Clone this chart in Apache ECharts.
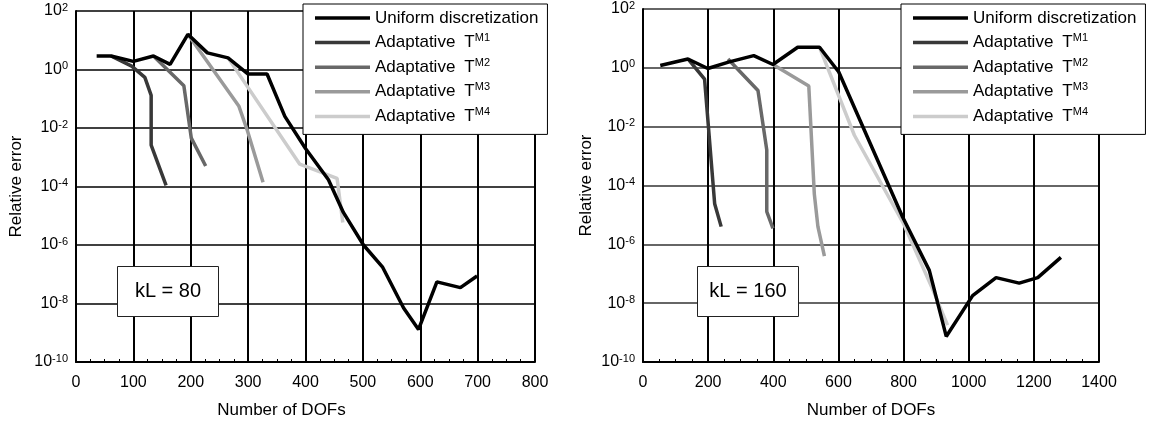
<!DOCTYPE html>
<html><head><meta charset="utf-8">
<script src="https://cdn.jsdelivr.net/npm/echarts@6/dist/echarts.min.js"></script>
<style>html,body{margin:0;padding:0;background:#fff}#c{width:1150px;height:424px}</style>
</head><body><div id="c"></div>
<script>
// ---- Data ----
const seriesNames = ['Uniform discretization', 'Adaptative T^M1', 'Adaptative T^M2', 'Adaptative T^M3', 'Adaptative T^M4'];
const seriesColors = ['#000000', '#383838', '#686868', '#9a9a9a', '#cccccc'];
const xTicksLeft = { min: 0, max: 800, step: 100 };
const xTicksRight = { min: 0, max: 1400, step: 200 };
const panelLabels = ['kL = 80', 'kL = 160'];
const xTitle = 'Number of DOFs';
const yTitle = 'Relative error';

// kL = 80  [DOFs, relative error]
const kl80Uniform = [[36,2.9],[61,2.9],[100,1.9],[135,2.9],[164,1.5],[195,16],[229,3.7],[265,2.5],[300,0.7],[333,0.7],[364,2.5e-2],[400,2.0e-3],[440,1.7e-4],[466,1.3e-5],[501,1.0e-6],[534,1.8e-7],[571,7e-9],[597,1.3e-9],[629,5.5e-8],[670,3.5e-8],[699,8.7e-8]];
const kl80M1 = [[61,2.9],[97,1.3],[120,0.54],[131,0.13],[131,2.6e-3],[157,1.1e-4]];
const kl80M2 = [[135,2.9],[188,0.28],[201,4.5e-3],[226,5e-4]];
const kl80M3 = [[195,16],[284,5.5e-2],[298,9e-3],[326,1.4e-4]];
const kl80M4 = [[265,2.5],[390,5.8e-4],[455,1.9e-4],[465,5.9e-6]];

// kL = 160
const kl160Uniform = [[53,1.2],[138,2.0],[199,0.95],[265,1.6],[340,2.6],[399,1.3],[475,5.0],[542,5.0],[601,0.72],[797,8.5e-6],[879,1.3e-7],[931,7.4e-10],[1012,1.8e-8],[1084,7.4e-8],[1155,4.8e-8],[1212,7.4e-8],[1283,3.6e-7]];
const kl160M1 = [[138,2.0],[189,0.41],[220,2.4e-5],[240,4e-6]];
const kl160M2 = [[261,2.0],[353,0.17],[380,1.6e-3],[380,1.3e-5],[399,3.5e-6]];
const kl160M3 = [[399,1.3],[509,0.24],[526,5.1e-5],[537,4e-6],[557,4e-7]];
const kl160M4 = [[542,5.0],[649,5.1e-3],[800,5e-6],[889,3e-8],[935,1.8e-9]];

const leftData = [kl80Uniform, kl80M1, kl80M2, kl80M3, kl80M4];
const rightData = [kl160Uniform, kl160M1, kl160M2, kl160M3, kl160M4];

// ---- Chart ----
const FONT = '"Liberation Sans", Arial, sans-serif';
const chart = echarts.init(document.getElementById('c'), null, { renderer: 'canvas' });

function powLabel(v) {
  const e = Math.round(Math.log10(v));
  return '{b|10}{s|' + e + '}';
}
const yRich = {
  b: { fontSize: 16, fontFamily: FONT, color: '#000', lineHeight: 18 },
  s: { fontSize: 11, fontFamily: FONT, color: '#000', lineHeight: 10, verticalAlign: 'top' }
};

function makeX(idx, t, titlePad) {
  return {
    gridIndex: idx, type: 'value', min: t.min, max: t.max, interval: t.step,
    name: xTitle, nameLocation: 'middle', nameGap: 40,
    nameTextStyle: { fontSize: 17, fontFamily: FONT, color: '#000', padding: titlePad },
    axisLine: { show: true, lineStyle: { color: '#000', width: 2 } },
    axisTick: { show: false, inside: true },
    minorTick: { show: true, splitNumber: 4, length: 3, lineStyle: { color: '#000', width: 1 } },
    axisLabel: { fontSize: 16, fontFamily: FONT, color: '#000', margin: 13, formatter: v => String(v) },
    splitLine: { show: true, lineStyle: { color: '#000', width: 2 } }
  };
}
function makeY(idx, gridColor, gap) {
  return {
    gridIndex: idx, type: 'log', logBase: 100, min: 1e-10, max: 1e2, splitNumber: 6,
    name: yTitle, nameLocation: 'middle', nameGap: gap, nameRotate: 90,
    nameTextStyle: { fontSize: 17, fontFamily: FONT, color: '#000' },
    axisLine: { show: true, lineStyle: { color: '#000', width: 2 } },
    axisTick: { show: false },
    axisLabel: { formatter: powLabel, rich: yRich, margin: 8, fontSize: 16, fontFamily: FONT, color: '#000' },
    splitLine: { show: true, lineStyle: { color: gridColor, width: 1.5 } }
  };
}

const series = [];
[leftData, rightData].forEach((set, gi) => {
  [1, 2, 3, 4, 0].forEach(k => {
    series.push({
      name: seriesNames[k], type: 'line', xAxisIndex: gi, yAxisIndex: gi,
      data: set[k], symbol: 'none', color: seriesColors[k],
      lineStyle: { color: seriesColors[k], width: 3.5 },
      z: k === 0 ? 4 : 3, silent: true, animation: false
    });
  });
});

function legendFmt(name) {
  const p = name.split(' T^');
  if (p.length < 2) return name;
  return p[0] + '{t|T}{s|' + p[1] + '}';
}
const legendRich = {
  t: { fontSize: 17, fontFamily: FONT, color: '#000', lineHeight: 20, padding: [0, 0, 0, 9] },
  s: { fontSize: 11, fontFamily: FONT, color: '#000', lineHeight: 11, verticalAlign: 'top' }
};
function makeLegend(left) {
  return {
    left: left, top: 4, orient: 'vertical', data: seriesNames, selectedMode: false,
    icon: 'rect', itemWidth: 55, itemHeight: 3.5, itemGap: 4.6,
    padding: [4, 9, 8, 12], backgroundColor: '#fff', borderColor: '#000', borderWidth: 1,
    textStyle: { fontSize: 17, fontFamily: FONT, color: '#000', lineHeight: 20, rich: legendRich },
    formatter: legendFmt, z: 10
  };
}

function labelBox(x, y, w, h, text) {
  return {
    type: 'group', left: x, top: y, z: 20,
    children: [
      { type: 'rect', z: 20, shape: { x: 0, y: 0, width: w, height: h }, style: { fill: '#fff', stroke: '#222', lineWidth: 1 } },
      { type: 'text', z: 21, x: w / 2, y: h / 2, style: { text: text, fontSize: 20, fontFamily: FONT, fill: '#000', align: 'center', verticalAlign: 'middle' } }
    ]
  };
}

chart.setOption({
  animation: false,
  backgroundColor: '#fff',
  grid: [
    { left: 76, top: 11, width: 459, height: 354 },
    { left: 643, top: 8, width: 456, height: 360 }
  ],
  xAxis: [makeX(0, xTicksLeft, [0, 48, 0, 0]), makeX(1, xTicksRight, 0)],
  yAxis: [makeY(0, '#000', 51), makeY(1, '#333', 48)],
  legend: [makeLegend(303), makeLegend(901)],
  series: series,
  graphic: [
    labelBox(117, 266, 101, 50, panelLabels[0]),
    labelBox(697, 266, 101, 50, panelLabels[1])
  ]
});
</script>
</body></html>
